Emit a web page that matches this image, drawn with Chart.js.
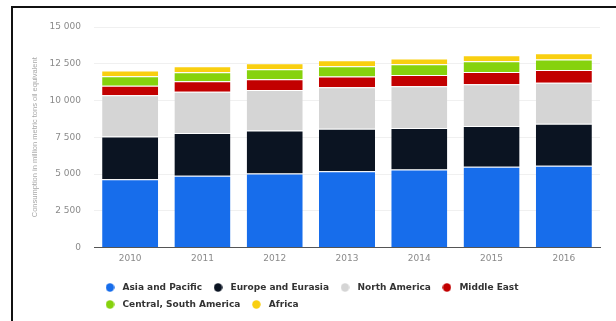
<!DOCTYPE html>
<html lang="en">
<head>
  <meta charset="UTF-8" />
  <title>Primary energy consumption by region</title>
  <script src="https://cdn.jsdelivr.net/npm/chart.js"></script>
  <style>
    html, body { margin: 0; padding: 0; background: #fff; }
    .wrap { position: relative; width: 616px; height: 321px; }
    .frame {
      position: absolute; left: 11px; top: 6px; right: 0; bottom: 0;
      border-top: 2px solid #111; border-left: 2px solid #111;
      pointer-events: none;
    }
  </style>
</head>
<body>
  <div class="wrap">
    <canvas id="energyChart" width="616" height="321"></canvas>
    <div class="frame"></div>
  </div>

  <script>
    // data (million metric tons oil equivalent)
    const years = ["2010", "2011", "2012", "2013", "2014", "2015", "2016"];
    const regions = ["Asia and Pacific", "Europe and Eurasia", "North America", "Middle East", "Central, South America", "Africa"];
    const regionColors = ["#176deb", "#0b1422", "#d5d5d5", "#c20000", "#86d20d", "#f9cf10"];

    const asiaPacific   = [4650, 4875, 5030, 5190, 5305, 5490, 5560];
    const europeEurasia = [2905, 2910, 2935, 2890, 2820, 2770, 2860];
    const northAmerica  = [2795, 2815, 2750, 2815, 2840, 2840, 2795];
    const middleEast    = [660, 705, 725, 730, 775, 840, 865];
    const centralSouth  = [635, 615, 680, 705, 725, 725, 705];
    const africa        = [390, 410, 410, 410, 385, 410, 430];

    const yTicks = [0, 2500, 5000, 7500, 10000, 12500, 15000];

    const seriesValues = [asiaPacific, europeEurasia, northAmerica, middleEast, centralSouth, africa];

    function makeDot(color) {
      const c = document.createElement("canvas");
      c.width = 9; c.height = 9;
      const g = c.getContext("2d");
      g.fillStyle = color;
      g.beginPath();
      g.arc(4.5, 4.5, 4.2, 0, Math.PI * 2);
      g.fill();
      return c;
    }
    const dots = regionColors.map(makeDot);

    const fmt = v => String(v).replace(/\B(?=(\d{3})+(?!\d))/g, " ");

    const ctx = document.getElementById("energyChart").getContext("2d");
    new Chart(ctx, {
      type: "bar",
      data: {
        labels: years,
        datasets: regions.map((name, i) => ({
          label: name,
          data: seriesValues[i],
          backgroundColor: regionColors[i],
          borderColor: "rgba(255,255,255,0.55)",
          borderWidth: { top: 1, bottom: 0, left: 0, right: 0 },
          borderSkipped: "bottom",
          barPercentage: 0.775,
          categoryPercentage: 1
        }))
      },
      options: {
        responsive: false,
        animation: false,
        layout: { padding: { left: 0, right: 16, top: 27, bottom: 2 } },
        plugins: {
          tooltip: { enabled: false },
          legend: {
            position: "bottom",
            align: "start",
            fullSize: false,
            labels: {
              usePointStyle: true,
              pointStyleWidth: 16,
              padding: 8,
              color: "#333",
              font: { family: "DejaVu Sans", size: 9, weight: "bold" },
              generateLabels(chart) {
                const items = Chart.defaults.plugins.legend.labels.generateLabels(chart);
                items.forEach((it, i) => { it.pointStyle = dots[i]; });
                return items;
              }
            }
          }
        },
        scales: {
          x: {
            stacked: true,
            grid: { display: false, drawTicks: false },
            border: { display: true, color: "#555", width: 1 },
            ticks: {
              color: "#8a8a8a",
              padding: 6,
              font: { family: "DejaVu Sans", size: 9 }
            },
            afterFit(s) { s.height = 27.5; }
          },
          y: {
            stacked: true,
            min: 0,
            max: 15000,
            afterBuildTicks(s) { s.ticks = yTicks.map(v => ({ value: v })); },
            grid: { color: "#f0f0f0", drawTicks: false },
            border: { display: false },
            ticks: {
              color: "#8a8a8a",
              padding: 13,
              font: { family: "DejaVu Sans", size: 9 },
              callback: v => fmt(v)
            },
            title: {
              display: true,
              text: "Consumption in million metric tons oil equivalent",
              color: "#a8a8a8",
              padding: { top: 30.5, bottom: 0 },
              font: { family: "Liberation Sans", size: 7.5 }
            },
            afterFit(s) { s.width = 94; }
          }
        }
      }
    });
  </script>
</body>
</html>
